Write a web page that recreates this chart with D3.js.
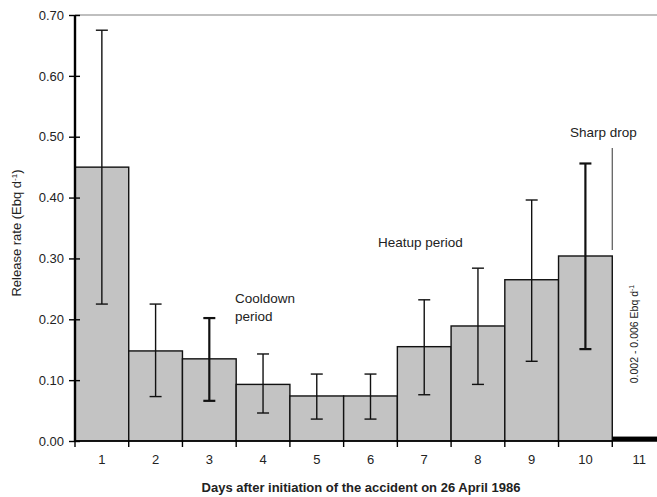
<!DOCTYPE html>
<html>
<head>
<meta charset="utf-8">
<script src="https://cdn.jsdelivr.net/npm/d3@7"></script>
<style>
  html, body { margin: 0; padding: 0; background: #fff; }
  svg { display: block; }
  text { font-family: "Liberation Sans", Arial, sans-serif; fill: #222; }
</style>
</head>
<body>
<svg id="chart" width="657" height="497"></svg>
<script>
// ---- data ----
const days = [1, 2, 3, 4, 5, 6, 7, 8, 9, 10, 11];
const dayLabels = ["1", "2", "3", "4", "5", "6", "7", "8", "9", "10", "11"];
const release = [0.45, 0.148, 0.135, 0.093, 0.074, 0.074, 0.155, 0.189, 0.265, 0.304, 0.004];
const errHigh = [0.675, 0.225, 0.202, 0.143, 0.110, 0.110, 0.232, 0.284, 0.396, 0.456, null];
const errLow  = [0.225, 0.073, 0.066, 0.046, 0.036, 0.036, 0.076, 0.093, 0.131, 0.151, null];
const yTicks = [0, 0.1, 0.2, 0.3, 0.4, 0.5, 0.6, 0.7];
const yTitle = "Release rate (Ebq d";
const xTitle = "Days after initiation of the accident on 26 April 1986";
const notes = {cool1: "Cooldown", cool2: "period", heat: "Heatup period", drop: "Sharp drop", low: "0.002 - 0.006 Ebq d"};

// ---- layout ----
const svg = d3.select("#chart");
const x = d3.scaleBand().domain(days).range([75, 666]).padding(0);
const y = d3.scaleLinear().domain([0, 0.7]).range([441, 15]);
const thickErr = new Set([3, 10]);

const rows = days.map((d, i) => ({day: d, v: release[i], hi: errHigh[i], lo: errLow[i]}));

// top gridline at 0.70
svg.append("line")
  .attr("x1", 75).attr("x2", 657)
  .attr("y1", y(0.7)).attr("y2", y(0.7))
  .attr("stroke", "#aaa").attr("stroke-width", 1.3);

// bars
svg.append("g").selectAll("rect")
  .data(rows.filter(r => r.day !== 11))
  .join("rect")
  .attr("x", r => x(r.day))
  .attr("width", x.bandwidth())
  .attr("y", r => y(r.v))
  .attr("height", r => y(0) - y(r.v))
  .attr("fill", "#c3c3c3")
  .attr("stroke", "#111")
  .attr("stroke-width", 1.4);

// tiny day-11 bar
svg.append("g").selectAll("rect")
  .data(rows.filter(r => r.day === 11))
  .join("rect")
  .attr("x", r => x(r.day))
  .attr("width", x.bandwidth())
  .attr("y", r => y(r.v) - 2)
  .attr("height", r => y(0) - y(r.v) + 2)
  .attr("fill", "#000");

// error bars
const eb = svg.append("g").selectAll("g")
  .data(rows.filter(r => r.hi != null))
  .join("g")
  .attr("stroke", "#111")
  .attr("stroke-width", r => thickErr.has(r.day) ? 2.2 : 1.4);
const cx = r => x(r.day) + x.bandwidth() / 2;
eb.append("line").attr("x1", cx).attr("x2", cx).attr("y1", r => y(r.hi)).attr("y2", r => y(r.lo));
eb.append("line").attr("x1", r => cx(r) - 6).attr("x2", r => cx(r) + 6).attr("y1", r => y(r.hi)).attr("y2", r => y(r.hi));
eb.append("line").attr("x1", r => cx(r) - 6).attr("x2", r => cx(r) + 6).attr("y1", r => y(r.lo)).attr("y2", r => y(r.lo));

// y axis
const yAxis = svg.append("g")
  .attr("transform", "translate(75,0)")
  .call(d3.axisLeft(y).tickValues(yTicks).tickFormat(d3.format(".2f")).tickSize(6).tickPadding(5));
yAxis.select(".domain").attr("stroke", "#000").attr("stroke-width", 2.4).attr("d", `M0,${y(0.7)}V${y(0)}`);
yAxis.selectAll(".tick line").attr("x1", 5).attr("stroke", "#000").attr("stroke-width", 1.4);
yAxis.selectAll(".tick text").style("font-size", "13px").attr("fill", "#333");

// x axis
const xAxis = svg.append("g")
  .attr("transform", `translate(0,${y(0)})`)
  .call(d3.axisBottom(x).tickFormat((d, i) => dayLabels[i]).tickSize(0).tickPadding(14));
xAxis.select(".domain").attr("stroke", "#000").attr("stroke-width", 1.6).attr("d", "M75,0H657");
xAxis.selectAll(".tick text").style("font-size", "13px").attr("fill", "#333");
xAxis.append("g").selectAll("line")
  .data(days)
  .join("line")
  .attr("x1", d => x(d)).attr("x2", d => x(d))
  .attr("y1", 0).attr("y2", 6)
  .attr("stroke", "#000").attr("stroke-width", 1.4);

// axis titles
const yt = svg.append("text")
  .attr("transform", "translate(21,233) rotate(-90)")
  .attr("text-anchor", "middle")
  .style("font-size", "13px");
yt.append("tspan").text(yTitle);
yt.append("tspan").attr("dy", -4).style("font-size", "8px").text("-1");
yt.append("tspan").attr("dy", 4).text(")");

svg.append("text")
  .attr("x", 361).attr("y", 492)
  .attr("text-anchor", "middle")
  .style("font-size", "13px").style("font-weight", "bold")
  .attr("fill", "#111")
  .text(xTitle);

// annotations
const ann = svg.append("g").style("font-size", "13.5px");
ann.append("text").attr("x", 235).attr("y", 303).text(notes.cool1);
ann.append("text").attr("x", 235).attr("y", 321).text(notes.cool2);
ann.append("text").attr("x", 378).attr("y", 247).text(notes.heat);
ann.append("text").attr("x", 570).attr("y", 137).text(notes.drop);

// sharp drop line
svg.append("line")
  .attr("x1", x(10) + x.bandwidth()).attr("x2", x(10) + x.bandwidth())
  .attr("y1", 148).attr("y2", y(release[9]) - 6)
  .attr("stroke", "#555").attr("stroke-width", 1.2);

// rotated low-value label
const lt = svg.append("text")
  .attr("transform", `translate(${x(11) + x.bandwidth() / 2 - 1},334) rotate(-90)`)
  .attr("text-anchor", "middle")
  .style("font-size", "10.5px");
lt.append("tspan").text(notes.low);
lt.append("tspan").attr("dy", -4).style("font-size", "7px").text("-1");
</script>
</body>
</html>
